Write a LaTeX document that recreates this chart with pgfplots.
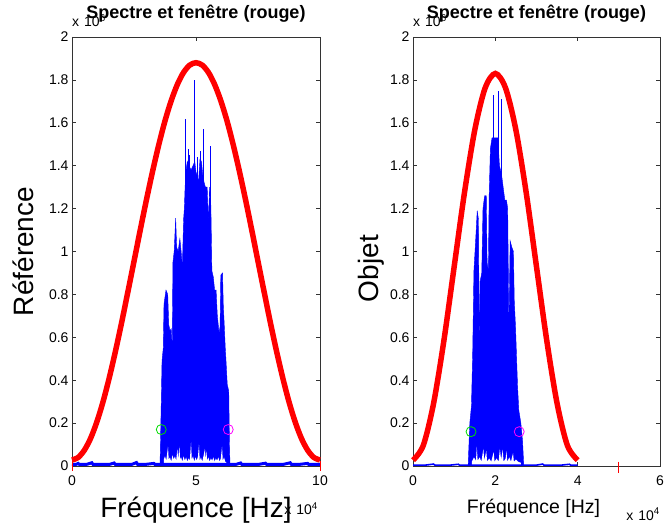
\documentclass[border=0pt]{standalone}
\usepackage{fontspec}
\setmainfont{Liberation Sans}
\usepackage{pgfplots}
\pgfplotsset{compat=1.18}
\definecolor{mgreen}{RGB}{0,220,0}
\definecolor{mmag}{RGB}{255,0,255}
\pgfplotsset{
  mlab/.style={
    scale only axis, height=429pt, ymin=0, ymax=2000000, xmin=0,
    anchor=south west, clip=false,
    scaled x ticks=false, scaled y ticks=false,
    ytick={0,200000,400000,600000,800000,1000000,1200000,1400000,1600000,1800000,2000000},
    yticklabels={0,0.2,0.4,0.6,0.8,1,1.2,1.4,1.6,1.8,2},
    tick align=inside, major tick length=4pt,
    axis line style={black!80, line width=0.7pt},
    every tick/.style={black!80, line width=0.7pt},
    tick label style={font=\fontsize{14}{16}\selectfont},
    xticklabel style={yshift=-6pt},
    /pgf/number format/assume math mode=true,
    title={Spectre et fenêtre (rouge)},
    title style={font=\fontsize{18}{20}\selectfont\bfseries, at={(axis description cs:0.5,1.028)}, anchor=base},
  },
}
\begin{document}
\begin{tikzpicture}
\useasboundingbox (0pt,0pt) rectangle (664pt,527pt);
% ---------------- left axis ----------------
\begin{axis}[mlab, at={(72pt,61pt)}, width=248pt, xmax=100000,
  xtick={0,50000,100000}, xticklabels={0,5,10},
  xlabel={Fréquence [Hz]},
  xlabel style={font=\fontsize{28}{30}\selectfont, at={(axis description cs:0.5,-0.119)}, anchor=base},
  ylabel={Référence},
  ylabel style={font=\fontsize{28}{30}\selectfont, at={(axis description cs:-0.157,0.5)}, anchor=base},
]
% spectrum band
\addplot[blue, fill=blue, line width=0.4pt] coordinates {
(35500,7000) (36000,300000) (36300,490000) (36800,550000) (37100,755000) (37900,820000) (38600,800000) (39000,660000) (39500,630000) (40000,640000) (40400,556000) (40700,950000) (41200,1000000) (41800,1155000) (42200,1020000) (42800,1000000) (43500,1060000) (44000,1000000) (44500,930000) (45000,1150000) (45300,1200000) (45600,1300000) (46000,1380000) (46500,1420000) (47200,1400000) (48000,1380000) (48800,1400000) (49500,1420000) (50000,1370000) (50600,1350000) (51000,1320000) (51600,1430000) (52200,1420000) (52700,1360000) (53300,1320000) (53800,1300000) (54500,1300000) (55000,1140000) (55500,1300000) (56000,1210000) (56400,910000) (57000,880000) (57500,820000) (58100,820000) (58600,700000) (59300,620000) (59700,650000) (60000,890000) (60700,900000) (61000,750000) (61300,680000) (61800,550000) (62100,490000) (62600,380000) (63200,350000) (63500,100000) (63700,7000)
} \closedcycle;
\addplot[blue, ycomb, line width=0.8pt] coordinates {
(45800,1620000) (46900,1480000) (47500,1450000) (49200,1800000) (49400,1700000) (50500,1440000) (51800,1470000) (52900,1570000) (55800,1490000)
};
% white gaps at the foot of the band
\addplot[fill=white, draw=none] coordinates {
(37000,0) (37000,30000) (37500,45000) (38000,25000) (38700,90000) (39000,30000) (39500,40000) (40000,20000) (40500,50000) (41000,30000) (41500,45000) (42000,25000) (42500,80000) (42800,30000) (43300,90000) (43600,30000) (44000,40000) (44500,20000) (45000,45000) (45500,25000) (46000,40000) (46500,20000) (47000,35000) (47500,25000) (48000,110000) (48300,30000) (48800,45000) (49300,20000) (49800,40000) (50300,25000) (50800,45000) (51200,100000) (51500,25000) (52000,40000) (52500,20000) (53000,45000) (53600,80000) (53900,30000) (54200,70000) (54500,25000) (55000,40000) (55500,20000) (56000,35000) (56500,25000) (57000,40000) (57500,20000) (58000,35000) (58500,25000) (59000,40000) (59500,20000) (60000,35000) (60500,90000) (60800,25000) (61300,40000) (61800,20000) (62300,15000) (62300,0)
} \closedcycle;
% noise floor
\addplot[blue, line width=3pt] coordinates {
(0,8000) (1500,7000) (2500,12000) (3000,7000) (6000,8000) (8000,15000) (8500,7000) (12000,8000) (15000,7000) (17000,14000) (17500,7000) (21000,8000) (24000,7000) (26000,16000) (26500,7000) (30000,8000) (33000,12000) (33500,7000) (35500,8000) (40000,7000) (45000,8000) (50000,7000) (55000,8000) (60000,7000) (63700,8000) (66000,7000) (68000,14000) (68500,7000) (72000,8000) (75000,7000) (78000,13000) (78500,7000) (82000,8000) (85000,7000) (88000,15000) (88500,7000) (92000,8000) (95000,12000) (95500,7000) (100000,8000)
};
% window
\addplot[red, line width=5.5pt, smooth] coordinates {
(0,28000) (2500,40000) (5000,74000) (7500,129000) (10000,205000) (12500,299000) (15000,410000) (17500,534000) (20000,668000) (22500,810000) (25000,954000) (27500,1099000) (30000,1240000) (32500,1374000) (35000,1498000) (37500,1609000) (40000,1703000) (42500,1779000) (45000,1835000) (47500,1869000) (50000,1880000) (52500,1869000) (55000,1835000) (57500,1779000) (60000,1703000) (62500,1609000) (65000,1498000) (67500,1374000) (70000,1240000) (72500,1099000) (75000,954000) (77500,810000) (80000,668000) (82500,534000) (85000,410000) (87500,299000) (90000,205000) (92500,129000) (95000,74000) (97500,40000) (100000,28000)
};
\addplot[only marks, mark=|, mark size=5pt, red, mark options={line width=1pt}] coordinates {(0,0) (100000,0)};
\addplot[only marks, mark=o, mark size=5pt, mgreen, mark options={line width=0.8pt}] coordinates {(36000,170000)};
\addplot[only marks, mark=o, mark size=5pt, mmag, mark options={line width=0.8pt}] coordinates {(63000,170000)};
\node[anchor=base west, font=\fontsize{14}{16}\selectfont, inner sep=0pt] at (rel axis cs:0,1.0233) {x\hspace{5pt}10\textsuperscript{6}};
\node[anchor=base east, font=\fontsize{14}{16}\selectfont, inner sep=0pt, xshift=-2pt] at (rel axis cs:1,-0.114) {x\hspace{5pt}10\textsuperscript{4}};
\end{axis}
% ---------------- right axis ----------------
\begin{axis}[mlab, at={(413pt,61pt)}, width=247pt, xmax=60000,
  xtick={0,20000,40000,60000}, xticklabels={0,2,4,6},
  xlabel={Fréquence [Hz]},
  xlabel style={font=\fontsize{19.5}{22}\selectfont, at={(axis description cs:0.488,-0.110)}, anchor=base},
  ylabel={Objet},
  ylabel style={font=\fontsize{28}{30}\selectfont, at={(axis description cs:-0.138,0.46)}, anchor=base},
]
\addplot[blue, fill=blue, line width=0.4pt] coordinates {
(13400,4000) (13800,200000) (14200,280000) (14500,530000) (14800,910000) (15300,1080000) (15600,1190000) (15900,1150000) (16100,550000) (16300,860000) (16700,900000) (17000,1200000) (17400,1260000) (17800,1260000) (18000,950000) (18300,910000) (18500,1260000) (18800,1480000) (19200,1530000) (20000,1530000) (20600,1530000) (21000,1400000) (21500,1360000) (21900,1300000) (22300,1240000) (22700,1240000) (23000,1200000) (23300,640000) (23600,1050000) (24000,1020000) (24400,1000000) (24600,770000) (24900,650000) (25400,370000) (25700,260000) (26200,200000) (26600,120000) (26900,4000)
} \closedcycle;
\addplot[blue, ycomb, line width=0.8pt] coordinates {
(19500,1730000) (20700,1750000) (21500,1710000)
};
\addplot[fill=white, draw=none] coordinates {
(14300,0) (14300,20000) (14800,40000) (15300,25000) (15500,90000) (15700,25000) (16200,40000) (16600,20000) (17100,80000) (17300,25000) (17800,70000) (18000,20000) (18500,35000) (19000,20000) (19600,65000) (19800,20000) (20300,35000) (20800,20000) (21100,80000) (21400,30000) (21800,75000) (22000,20000) (22500,35000) (22700,70000) (22900,20000) (23400,40000) (23800,20000) (24300,60000) (24500,20000) (25000,30000) (25500,20000) (26200,15000) (26200,0)
} \closedcycle;
\addplot[blue, line width=1.6pt] coordinates {
(0,4000) (3000,4000) (5000,9000) (5300,4000) (9000,4000) (11000,8000) (11300,4000) (14000,4000) (20000,4000) (26000,4000) (30000,4000) (31500,9000) (31800,4000) (36000,4000) (38000,8000) (38300,4000) (40000,4000)
};
\addplot[red, line width=5.5pt, smooth] coordinates {
(0,27000) (2500,96000) (5000,292000) (7500,584000) (10000,929000) (12500,1274000) (15000,1566000) (17500,1761000) (20000,1830000) (22500,1761000) (25000,1566000) (27500,1274000) (30000,929000) (32500,584000) (35000,292000) (37500,96000) (40000,27000)
};
\addplot[only marks, mark=|, mark size=5.5pt, red, mark options={line width=1pt}] coordinates {(50000,-5000)};
\addplot[only marks, mark=o, mark size=5pt, mgreen, mark options={line width=0.8pt}] coordinates {(14100,160000)};
\addplot[only marks, mark=o, mark size=5pt, mmag, mark options={line width=0.8pt}] coordinates {(25800,160000)};
\node[anchor=base west, font=\fontsize{14}{16}\selectfont, inner sep=0pt] at (rel axis cs:0,1.0233) {x\hspace{5pt}10\textsuperscript{6}};
\node[anchor=base east, font=\fontsize{14}{16}\selectfont, inner sep=0pt] at (rel axis cs:1,-0.126) {x\hspace{5pt}10\textsuperscript{4}};
\end{axis}
\end{tikzpicture}
\end{document}
